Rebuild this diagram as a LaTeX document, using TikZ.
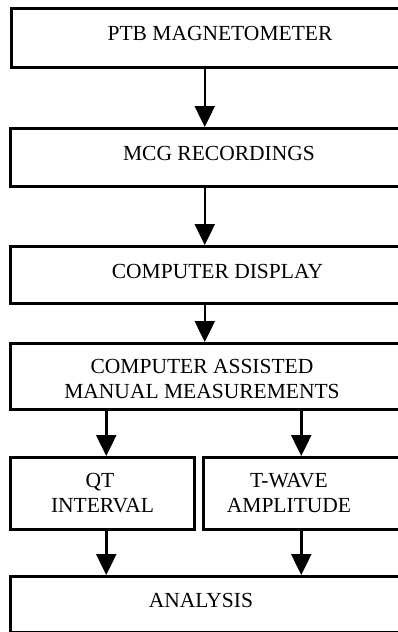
\documentclass[tikz,border=0pt]{standalone}
\usepackage{fontspec}
\setmainfont{Liberation Serif}
\usetikzlibrary{arrows.meta}
\begin{document}
\begin{tikzpicture}[x=1pt,y=-1pt,
  box/.style={draw, line width=2.5pt, rectangle, inner sep=0pt, anchor=north west},
  lbl/.style={font=\fontsize{21.5}{25}\selectfont, anchor=base, inner sep=0pt},
  arr/.style={line width=2.5pt, -{Triangle[length=21pt,width=20pt]}}]
\useasboundingbox (0,0) rectangle (397,632);
% boxes
\node[box, minimum width=388pt, minimum height=59pt] (b1) at (10,7) {};
\node[box, minimum width=389pt, minimum height=58pt] (b2) at (9,127) {};
\node[box, minimum width=389pt, minimum height=57pt] (b3) at (9,245) {};
\node[box, minimum width=389pt, minimum height=66pt] (b4) at (9,342) {};
\node[box, minimum width=184pt, minimum height=72pt] (b5) at (9,456) {};
\node[box, minimum width=196pt, minimum height=72pt] (b6) at (202,456) {};
\node[box, minimum width=389pt, minimum height=56pt] (b7) at (9,575) {};
% labels
\node[lbl] (t1) at (220,40) {PTB MAGNETOMETER};
\node[lbl] (t2) at (219,160) {MCG RECORDINGS};
\node[lbl] (t3) at (217.5,278) {COMPUTER DISPLAY};
\node[lbl] (t4a) at (202,373) {COMPUTER ASSISTED};
\node[lbl] (t4b) at (202,398) {MANUAL MEASUREMENTS};
\node[lbl] (t5a) at (100,487) {QT};
\node[lbl] (t5b) at (102.5,512) {INTERVAL};
\node[lbl] (t6a) at (289,487) {T-WAVE};
\node[lbl] (t6b) at (289,512) {AMPLITUDE};
\node[lbl] (t7) at (201,607) {ANALYSIS};
% arrows
\coordinate (l5n) at ([xshift=4pt]b5.north);
\coordinate (l5s) at ([xshift=4pt]b5.south);
\draw[arr] (b2.north |- b1.south) -- (b2.north);
\draw[arr] (b3.north |- b2.south) -- (b3.north);
\draw[arr] (b4.north |- b3.south) -- (b4.north);
\draw[arr] (l5n |- b4.south) -- (l5n);
\draw[arr] (b6.north |- b4.south) -- (b6.north);
\draw[arr] (l5s) -- (l5s |- b7.north);
\draw[arr] (b6.south) -- (b6.south |- b7.north);
\end{tikzpicture}
\end{document}
